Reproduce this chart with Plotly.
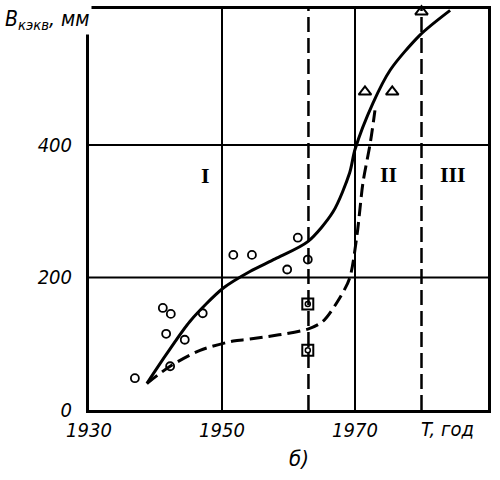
import plotly.graph_objects as go

# --- data ---
solid_x = [1938.7, 1941.7, 1945.2, 1950.2, 1954.2, 1958.0, 1962.9, 1966.7, 1969.2, 1970.0, 1972.7, 1975.3, 1979.8, 1984.3]
solid_y = [40, 85, 134, 184, 209, 228, 254, 299, 358, 393, 463, 513, 566, 603]

dash_x = [1938.7, 1942.2, 1946.7, 1951.7, 1954.2, 1962.9, 1965.2, 1967.7, 1969.2, 1970.3, 1971.2, 1972.3, 1973.0]
dash_y = [40, 66, 90, 104, 107, 122, 134, 169, 199, 264, 343, 403, 452]

circle_x = [1936.9, 1941.1, 1942.3, 1941.6, 1944.4, 1942.2, 1947.1, 1951.7, 1954.5, 1959.8, 1961.4, 1962.9]
circle_y = [48, 154, 145, 115, 106, 66, 146, 234, 234, 212, 260, 227]

square_x = [1962.9, 1962.9]
square_y = [160, 90]

triangle_x = [1971.5, 1975.6, 1980.0]
triangle_y = [480, 480, 601]

x_ticks = [1930, 1950, 1970]
y_ticks = [0, 200, 400]
x_grid = [1950, 1970]
y_grid = [200, 400]
boundaries = [1963, 1980]
zones = ["I", "II", "III"]
zone_x = [1947.5, 1975.0, 1984.7]
zone_y = [354, 355, 355]

fig = go.Figure()

fig.add_trace(go.Scatter(x=solid_x, y=solid_y, mode="lines",
                         line=dict(color="black", width=3, shape="spline", smoothing=0.8),
                         showlegend=False))
fig.add_trace(go.Scatter(x=dash_x, y=dash_y, mode="lines",
                         line=dict(color="black", width=3, shape="spline", smoothing=0.8, dash="13px,6px"),
                         showlegend=False))
fig.add_trace(go.Scatter(x=circle_x, y=circle_y, mode="markers",
                         marker=dict(symbol="circle-open", size=8, color="black", line=dict(width=1.8)),
                         showlegend=False))
fig.add_trace(go.Scatter(x=square_x, y=square_y, mode="markers",
                         marker=dict(symbol="square-open", size=11, color="black", line=dict(width=2)),
                         showlegend=False))
fig.add_trace(go.Scatter(x=square_x, y=square_y, mode="markers",
                         marker=dict(symbol="circle-open", size=5, color="black", line=dict(width=1.5)),
                         showlegend=False))
fig.add_trace(go.Scatter(x=triangle_x, y=triangle_y, mode="markers", cliponaxis=False,
                         marker=dict(symbol="triangle-up-open", size=11, color="black", line=dict(width=2)),
                         showlegend=False))

shapes = []
for bx in boundaries:
    shapes.append(dict(type="line", xref="x", yref="y", x0=bx, x1=bx, y0=0, y1=605,
                       line=dict(color="black", width=2.5, dash="15px,6px"), layer="below"))
fig.update_layout(shapes=shapes)

tick_font = dict(family="Liberation Sans Narrow, DejaVu Sans Condensed, Arial", size=20,
                 color="black", style="italic")

fig.update_xaxes(range=[1930, 1990], tickvals=x_ticks, ticktext=[str(v) for v in x_ticks],
                 showgrid=False, zeroline=False, showline=True, linecolor="black", linewidth=3,
                 mirror=True, ticks="", tickfont=tick_font)
fig.update_yaxes(range=[0, 605], tickvals=y_ticks, ticktext=[str(v) for v in y_ticks],
                 showgrid=False, zeroline=False, showline=True, linecolor="black", linewidth=3,
                 mirror=True, ticks="", tickfont=tick_font, ticklabelstandoff=10)

for gx in x_grid:
    fig.add_shape(type="line", xref="x", yref="y", x0=gx, x1=gx, y0=0, y1=605,
                  line=dict(color="black", width=2), layer="below")
for gy in y_grid:
    fig.add_shape(type="line", xref="x", yref="y", x0=1930, x1=1990, y0=gy, y1=gy,
                  line=dict(color="black", width=2), layer="below")

for z, zx, zy in zip(zones, zone_x, zone_y):
    fig.add_annotation(x=zx, y=zy, text="<b>" + z + "</b>", showarrow=False,
                       font=dict(family="Liberation Serif, DejaVu Serif", size=22, color="black"))

fig.add_annotation(x=1979.6, y=0, yshift=-19, xanchor="left", yanchor="middle", text="T, год",
                   showarrow=False, font=tick_font)
fig.add_annotation(xref="paper", yref="paper", x=-0.215, y=0.972, xanchor="left", yanchor="middle",
                   text="B<sub>кэкв</sub>, мм", showarrow=False, bgcolor="white",
                   font=dict(family="Liberation Sans Narrow, DejaVu Sans Condensed, Arial", size=21,
                             color="black", style="italic"))
fig.add_annotation(x=1961.6, y=0, yshift=-48, text="б)", showarrow=False,
                   font=dict(family="Liberation Sans Narrow, DejaVu Sans Condensed, Arial", size=22,
                             color="black", style="italic"))

fig.update_layout(width=500, height=480, margin=dict(l=89, r=12, t=6, b=70),
                  plot_bgcolor="white", paper_bgcolor="white")

fig.write_html("out.html")
